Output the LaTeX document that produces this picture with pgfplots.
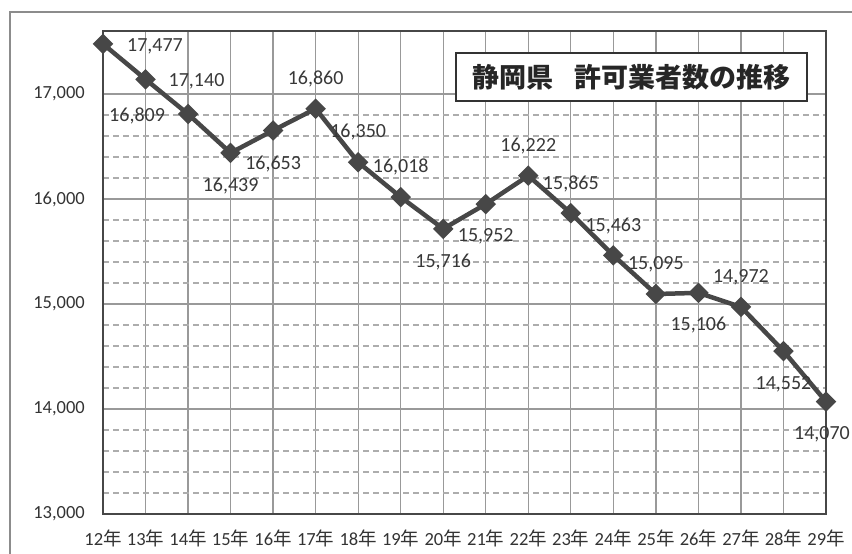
\documentclass[border=0pt]{standalone}
\usepackage{pgfplots}
\pgfplotsset{compat=1.18}
\usepackage{pgfplotstable}
\usepackage{fontspec}
\setmainfont{Carlito}
\newfontfamily\cjk{Noto Sans CJK JP}
\pgfplotstableread{
x y dx dy
0 17477 52 -2
1 17140 51 -2
2 16809 -51 -2
3 16439 0 -33
4 16653 0 -34
5 16860 0 30
6 16350 0 30
7 16018 0 30
8 15716 0 -33
9 15952 0 -32
10 16222 0 30
11 15865 0 29
12 15463 0 29
13 15095 0 30
14 15106 0 -32
15 14972 0 30
16 14552 0 -33
17 14070 -4 -33
}\datatable
\begin{document}
\begin{tikzpicture}
\begin{axis}[
  at={(103pt,40pt)}, anchor=south west,
  scale only axis, width=723pt, height=483pt,
  xmin=0, xmax=17, ymin=13000, ymax=17600,
  xtick={0,...,17},
  xticklabels={12{\cjk 年},13{\cjk 年},14{\cjk 年},15{\cjk 年},16{\cjk 年},17{\cjk 年},18{\cjk 年},19{\cjk 年},20{\cjk 年},21{\cjk 年},22{\cjk 年},23{\cjk 年},24{\cjk 年},25{\cjk 年},26{\cjk 年},27{\cjk 年},28{\cjk 年},29{\cjk 年}},
  ytick={13000,14000,15000,16000,17000},
  minor y tick num=4,
  scaled y ticks=false,
  /pgf/number format/.cd, 1000 sep={,}, assume math mode=true, /pgfplots/.cd,
  major tick length=0pt, minor tick length=0pt,
  xmajorgrids, ymajorgrids, yminorgrids,
  major grid style={black!40, line width=1.3pt},
  minor grid style={black!32, line width=1.2pt, dash pattern=on 6pt off 4pt},
  axis line style={black!72, line width=1.6pt},
  ticklabel style={text=black!80},
  yticklabel style={font=\fontsize{18.5}{20}\selectfont, anchor=east, inner sep=0pt, xshift=-18pt},
  xticklabel style={font=\fontsize{18.5}{20}\selectfont, anchor=center, inner sep=0pt, yshift=-24pt},
  clip=false,
]
\addplot[line width=4.5pt, color=black!72, mark=square*, mark size=5pt,
  mark options={rotate=45, solid, fill=black!72},
  visualization depends on={\thisrow{dx}\as\dx},
  visualization depends on={\thisrow{dy}\as\dy},
  point meta=y,
  nodes near coords={\pgfmathprintnumber[1000 sep={,}, assume math mode=true]{\pgfplotspointmeta}},
  nodes near coords style={anchor=center, inner sep=0pt, xshift=\dx pt, yshift=\dy pt, text=black!78, font=\fontsize{20}{22}\selectfont},
] table[x=x, y=y] {\datatable};
\end{axis}
\node[draw=black!80, line width=1.6pt, fill=white, minimum width=351pt, minimum height=48pt, inner sep=0pt, text=black!85] at (631.5pt,477pt) {\cjk\bfseries\fontsize{27}{30}\selectfont 静岡県\hspace{0.75em}許可業者数の推移};
\draw[black!45, line width=1.6pt] (10pt,-10pt) -- (10pt,542pt) -- (870pt,542pt);
\pgfresetboundingbox
\useasboundingbox (0pt,0pt) rectangle (852pt,554pt);
\end{tikzpicture}
\end{document}
